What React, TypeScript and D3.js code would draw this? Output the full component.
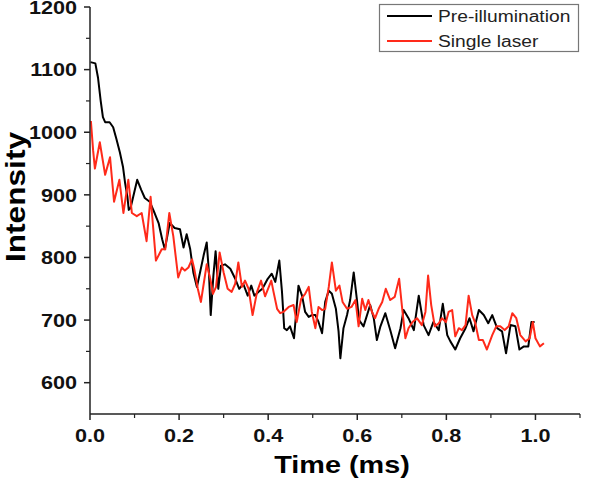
import React, { useEffect, useRef } from "react";
import * as d3 from "d3";

const preTime = [0.001,0.012,0.018,0.024,0.029,0.034,0.044,0.052,0.059,0.067,0.074,0.079,0.084,0.087,0.091,0.097,0.106,0.115,0.123,0.134,0.145,0.154,0.162,0.168,0.179,0.190,0.202,0.210,0.217,0.225,0.232,0.240,0.247,0.255,0.262,0.267,0.271,0.277,0.282,0.288,0.294,0.303,0.315,0.326,0.335,0.344,0.354,0.362,0.369,0.378,0.387,0.399,0.408,0.416,0.425,0.431,0.436,0.442,0.449,0.458,0.468,0.476,0.483,0.491,0.498,0.506,0.513,0.521,0.528,0.536,0.543,0.552,0.558,0.562,0.569,0.577,0.584,0.592,0.599,0.604,0.614,0.629,0.637,0.644,0.652,0.663,0.674,0.685,0.697,0.704,0.715,0.727,0.738,0.749,0.760,0.771,0.783,0.792,0.802,0.809,0.820,0.831,0.843,0.852,0.861,0.873,0.884,0.894,0.903,0.914,0.925,0.934,0.944,0.955,0.964,0.974,0.984,0.991,0.998];
const preValue = [1112,1110,1087,1050,1024,1016,1016,1008,990,968,945,918,897,876,879,897,924,908,895,889,871,855,829,813,855,847,845,816,837,813,776,753,776,803,824,776,708,771,810,750,787,789,782,766,750,758,739,755,739,745,750,766,774,761,795,745,687,684,690,671,755,739,713,705,708,708,697,679,729,747,742,718,682,639,687,708,732,776,734,700,690,724,703,668,690,711,684,655,687,716,703,684,739,692,676,697,684,726,676,666,653,671,687,703,682,716,708,695,708,687,682,647,692,690,653,658,658,697,697];

const laserTime = [0.002,0.007,0.011,0.022,0.034,0.045,0.054,0.066,0.075,0.086,0.094,0.105,0.116,0.127,0.136,0.148,0.161,0.169,0.178,0.187,0.198,0.206,0.213,0.221,0.229,0.234,0.242,0.249,0.257,0.262,0.270,0.276,0.283,0.291,0.300,0.309,0.318,0.326,0.333,0.341,0.348,0.356,0.365,0.375,0.384,0.393,0.407,0.412,0.420,0.427,0.434,0.446,0.457,0.464,0.474,0.483,0.491,0.498,0.506,0.513,0.521,0.528,0.536,0.543,0.552,0.560,0.567,0.577,0.587,0.596,0.603,0.611,0.618,0.625,0.633,0.640,0.648,0.656,0.664,0.674,0.684,0.694,0.700,0.708,0.715,0.724,0.734,0.745,0.753,0.759,0.766,0.774,0.783,0.790,0.799,0.805,0.813,0.820,0.828,0.835,0.843,0.850,0.858,0.865,0.873,0.882,0.891,0.903,0.912,0.921,0.931,0.940,0.948,0.957,0.966,0.978,0.987,0.994,1.000,1.010,1.019];
const laserValue = [1018,971,942,984,932,960,889,924,871,924,871,866,871,826,897,795,813,813,871,834,768,784,779,784,797,782,750,729,766,789,766,742,753,808,776,750,745,758,792,753,763,750,708,745,763,738,763,745,718,711,713,721,724,697,734,742,753,713,687,721,716,718,753,792,747,755,729,718,721,732,690,734,716,732,713,703,718,729,750,732,737,766,724,671,687,697,703,692,713,771,724,690,695,703,697,713,716,674,687,684,692,739,708,695,668,668,653,676,690,690,684,690,711,703,676,666,671,697,671,658,663];

const xTicks = [0, 0.2, 0.4, 0.6, 0.8, 1.0];
const xMinorTicks = [0.1, 0.3, 0.5, 0.7, 0.9, 1.1];
const yTicks = [600, 700, 800, 900, 1000, 1100, 1200];
const yMinorTicks = [650, 750, 850, 950, 1050, 1150];
const seriesNames = ["Pre-illumination", "Single laser"];
const seriesColors = ["#000000", "#ff2a1a"];

export default function App() {
  const ref = useRef<SVGSVGElement>(null);
  useEffect(() => {
    const svg = d3.select(ref.current);
    svg.selectAll("*").remove();
    const font = "'Liberation Sans', Arial, sans-serif";
    const stretch = 1.2;
    const x = d3.scaleLinear().domain([0, 1.1]).range([90, 580]);
    const y = d3.scaleLinear().domain([550, 1200]).range([414, 7]);

    const fix = (sel: any) => {
      sel.each(function (this: SVGTextElement) {
        const len = this.getComputedTextLength();
        this.setAttribute("textLength", String(len * stretch));
        this.setAttribute("lengthAdjust", "spacingAndGlyphs");
      });
    };

    const pre = preTime.map((t, i) => [t, preValue[i]] as [number, number]);
    const las = laserTime.map((t, i) => [t, laserValue[i]] as [number, number]);
    const line = d3.line<[number, number]>().x(d => x(d[0])).y(d => y(d[1]));
    svg.append("path").attr("d", line(pre) as string).attr("fill", "none")
      .attr("stroke", seriesColors[0]).attr("stroke-width", 2).attr("stroke-linejoin", "round");
    svg.append("path").attr("d", line(las) as string).attr("fill", "none")
      .attr("stroke", seriesColors[1]).attr("stroke-width", 2).attr("stroke-linejoin", "round");

    const axisColor = "#222";
    svg.append("line").attr("x1", 90).attr("x2", 90).attr("y1", y(1200)).attr("y2", y(550))
      .attr("stroke", axisColor).attr("stroke-width", 1.5);
    svg.append("line").attr("x1", x(0)).attr("x2", x(1.1)).attr("y1", 414).attr("y2", 414)
      .attr("stroke", axisColor).attr("stroke-width", 1.5);

    yTicks.forEach(v => {
      svg.append("line").attr("x1", 84).attr("x2", 90).attr("y1", y(v)).attr("y2", y(v))
        .attr("stroke", axisColor).attr("stroke-width", 1.5);
    });
    yMinorTicks.forEach(v => {
      svg.append("line").attr("x1", 86).attr("x2", 90).attr("y1", y(v)).attr("y2", y(v))
        .attr("stroke", axisColor).attr("stroke-width", 1.2);
    });
    xTicks.forEach(v => {
      svg.append("line").attr("x1", x(v)).attr("x2", x(v)).attr("y1", 414).attr("y2", 420)
        .attr("stroke", axisColor).attr("stroke-width", 1.5);
    });
    xMinorTicks.forEach(v => {
      svg.append("line").attr("x1", x(v)).attr("x2", x(v)).attr("y1", 414).attr("y2", 418)
        .attr("stroke", axisColor).attr("stroke-width", 1.2);
    });

    const yl = svg.selectAll("text.yt").data(yTicks).enter().append("text")
      .attr("class", "yt").attr("x", 77).attr("y", d => y(d) + 6.8)
      .attr("text-anchor", "end").attr("font-family", font).attr("font-weight", "bold")
      .attr("font-size", 18).attr("fill", "#111").text(d => String(d));
    fix(yl);

    const xl = svg.selectAll("text.xt").data(xTicks).enter().append("text")
      .attr("class", "xt").attr("x", d => x(d)).attr("y", 442)
      .attr("text-anchor", "middle").attr("font-family", font).attr("font-weight", "bold")
      .attr("font-size", 18).attr("fill", "#111").text(d => d.toFixed(1));
    fix(xl);

    const xt = svg.append("text").attr("x", 342).attr("y", 472.5).attr("text-anchor", "middle")
      .attr("font-family", font).attr("font-weight", "bold").attr("font-size", 24)
      .attr("fill", "#000").text("Time (ms)");
    fix(xt);

    svg.append("text").attr("transform", "translate(25,197) rotate(-90)")
      .attr("text-anchor", "middle").attr("font-family", font).attr("font-weight", "bold")
      .attr("font-size", 27).attr("fill", "#000")
      .attr("textLength", 130).attr("lengthAdjust", "spacingAndGlyphs").text("Intensity");

    svg.append("rect").attr("x", 379.5).attr("y", 4.5).attr("width", 199).attr("height", 47)
      .attr("fill", "#fff").attr("stroke", "#777").attr("stroke-width", 1.2);
    seriesNames.forEach((name, i) => {
      const ly = 16 + i * 25;
      svg.append("line").attr("x1", 387).attr("x2", 432).attr("y1", ly).attr("y2", ly)
        .attr("stroke", seriesColors[i]).attr("stroke-width", 2);
      const t = svg.append("text").attr("x", 438).attr("y", ly + 6).attr("font-family", font)
        .attr("font-size", 16).attr("fill", "#222").text(name);
      fix(t);
    });
  }, []);
  return (
    <svg ref={ref} width={600} height={480}
      style={{ position: "absolute", left: 0, top: 0, background: "#fff", display: "block" }} />
  );
}
